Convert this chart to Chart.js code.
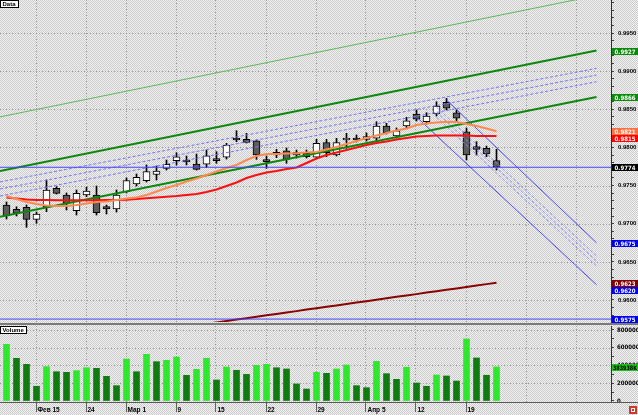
<!DOCTYPE html>
<html lang="ru">
<head>
<meta charset="UTF-8">
<title>Data</title>
<script src="https://cdn.jsdelivr.net/npm/chart.js"></script>
<style>
  html, body { margin: 0; padding: 0; background: #e0e0e0; }
  #wrap { width: 638px; height: 415px; overflow: hidden; }
  canvas { display: block; }
</style>
</head>
<body>
<div id="wrap">
  <canvas id="price" width="638" height="326"></canvas>
  <canvas id="volume" width="638" height="89"></canvas>
</div>
<script>
// ---- categories / ticks ----
const weekTickIdx = [3, 8, 12, 17, 21, 26, 31, 36, 41, 46];
const weekTickLabels = ['Фев 15', '24', 'Мар 1', '9', '15', '22', '29', 'Апр 5', '12', '19'];
const futureGridIdx = [52, 57];
const priceTicks = [0.9600, 0.9650, 0.9700, 0.9750, 0.9800, 0.9850, 0.9900, 0.9950];
const volumeTicks = [0, 200000, 400000, 600000, 800000];

// ---- daily candles (index 0 = Feb 10) ----
const opens  = [0.97245,0.97187,0.97214,0.97056,0.97220,0.97464,0.97376,0.97171,0.97376,0.97376,
                0.97223,0.97193,0.97420,0.97521,0.97564,0.97645,0.97726,0.97826,0.97835,0.97783,
                0.97779,0.97844,0.97871,0.98110,0.98106,0.98088,0.97835,0.97901,0.97957,0.97901,
                0.97923,0.97871,0.98062,0.97901,0.98097,0.98123,0.98106,0.98120,0.98281,0.98150,
                0.98281,0.98438,0.98337,0.98438,0.98592,0.98455,0.98206,0.98010,0.97988,0.97826];
const highs  = [0.97285,0.97222,0.97245,0.97153,0.97573,0.97485,0.97403,0.97442,0.97478,0.97494,
                0.97245,0.97442,0.97599,0.97652,0.97770,0.97756,0.97835,0.97931,0.97888,0.97914,
                0.97966,0.97944,0.98054,0.98219,0.98185,0.98097,0.97888,0.97975,0.97993,0.97966,
                0.97966,0.98106,0.98106,0.98119,0.98185,0.98163,0.98189,0.98337,0.98316,0.98255,
                0.98395,0.98491,0.98455,0.98599,0.98644,0.98491,0.98255,0.98075,0.98018,0.97975];
const lows   = [0.97062,0.97101,0.96953,0.97005,0.97158,0.97389,0.97180,0.97114,0.97354,0.97114,
                0.97127,0.97153,0.97403,0.97494,0.97547,0.97573,0.97704,0.97770,0.97770,0.97704,
                0.97737,0.97792,0.97848,0.98075,0.98058,0.97844,0.97726,0.97865,0.97792,0.97861,
                0.97861,0.97861,0.97878,0.97888,0.97988,0.98071,0.98084,0.98054,0.98176,0.98123,
                0.98255,0.98346,0.98307,0.98412,0.98491,0.98337,0.97835,0.97901,0.97879,0.97704];
const closes = [0.97101,0.97135,0.97056,0.97127,0.97442,0.97398,0.97267,0.97398,0.97429,0.97144,
                0.97193,0.97376,0.97564,0.97608,0.97682,0.97691,0.97779,0.97878,0.97809,0.97713,
                0.97891,0.97826,0.98032,0.98097,0.98067,0.97901,0.97813,0.97936,0.97844,0.97931,
                0.97878,0.98054,0.97931,0.98062,0.98110,0.98097,0.98141,0.98281,0.98193,0.98219,
                0.98350,0.98369,0.98412,0.98543,0.98513,0.98382,0.97901,0.97975,0.97914,0.9774];
const volumes = [639000,481000,413000,166000,387000,330000,323000,342000,375000,368000,
                 278000,173000,473000,330000,526000,443000,458000,496000,289000,357000,
                 481000,237000,383000,346000,300000,402000,413000,375000,361000,192000,
                 135000,323000,312000,361000,406000,173000,150000,447000,308000,244000,
                 380000,203000,166000,293000,282000,225000,699000,485000,290000,383938];

// ---- moving averages ----
const maFast = [0.97363,0.97324,0.97285,0.97258,0.97239,0.97232,0.97232,0.97245,0.97265,0.97285,
                0.97291,0.97311,0.97331,0.97344,0.97376,0.97422,0.97468,0.97507,0.97553,0.97593,
                0.97639,0.97684,0.97730,0.97770,0.97835,0.97888,0.97914,0.97914,0.97920,0.97923,
                0.97934,0.97940,0.97973,0.98006,0.98045,0.98084,0.98124,0.98156,0.98189,0.98222,
                0.98248,0.98294,0.98313,0.98327,0.98337,0.98333,0.98307,0.98281,0.98248,0.98212];
const maMid  = [0.97344,0.97331,0.97317,0.97311,0.97311,0.97307,0.97307,0.97307,0.97307,0.97307,
                0.97311,0.97311,0.97315,0.97324,0.97333,0.97344,0.97354,0.97363,0.97376,0.97389,
                0.97416,0.97448,0.97494,0.97540,0.97599,0.97638,0.97671,0.97691,0.97717,0.97737,
                0.97796,0.97855,0.97901,0.97934,0.97966,0.97999,0.98032,0.98058,0.98078,0.98104,
                0.98124,0.98143,0.98150,0.98156,0.98156,0.98156,0.98156,0.98150,0.98150,0.98150];
const maSlowStart = 20;
const maSlow = [0.95688,0.95706,0.95724,0.95743,0.95761,0.95781,0.95799,0.95817,0.95836,0.95854,
                0.95874,0.95892,0.95911,0.95929,0.95947,0.95966,0.95985,0.96004,0.96022,0.96041,
                0.96059,0.96077,0.96097,0.96115,0.96134,0.96152,0.96170,0.96190,0.96208,0.96227];

// ---- drawn lines: [index, price] end points ----
const greenUpper = [[-0.65, 0.9840], [60.45, 1.0003]];
const greenMid   = [[-0.65, 0.9769], [59, 0.9927]];
const greenLow   = [[-0.65, 0.9709], [59, 0.9866]];
const riseDash   = [[[-0.65, 0.97547], [59, 0.99037]],
                    [[-0.65, 0.97455], [59, 0.98949]],
                    [[-0.65, 0.97363], [59, 0.98861]]];
const fallUpper  = [[44, 0.98622], [59, 0.9675]];
const fallLower  = [[41, 0.98399], [59, 0.9620]];
const fallDash   = [[[43, 0.98527], [59, 0.96577]],
                    [[43, 0.98462], [59, 0.96511]],
                    [[43, 0.98396], [59, 0.96446]]];
const lastClose = 0.9774;
const supportLevel = 0.9575;

const X_MIN = -0.65, X_MAX = 60.45;
const FONT = '"Liberation Sans", Arial, sans-serif';
const NARROW = '"Liberation Sans Narrow", "DejaVu Sans Condensed", "Liberation Sans", sans-serif';

// ---- helpers ----
function dotPattern(ctx) {
  const c = document.createElement('canvas');
  c.width = 2; c.height = 2;
  const g = c.getContext('2d');
  g.fillStyle = '#f2f2f2'; g.fillRect(0, 0, 2, 2);
  g.fillStyle = '#cbcbcb'; g.fillRect(0, 0, 1, 1); g.fillRect(1, 1, 1, 1);
  return ctx.createPattern(c, 'repeat');
}
function dotted(ctx, x1, y1, x2, y2, color) {
  ctx.save();
  ctx.strokeStyle = color; ctx.lineWidth = 1; ctx.setLineDash([1, 2]);
  ctx.beginPath(); ctx.moveTo(x1, y1); ctx.lineTo(x2, y2); ctx.stroke();
  ctx.restore();
}
function tag(ctx, y, text, bg, fg) {
  ctx.save();
  ctx.fillStyle = bg; ctx.fillRect(612, y, 26, 7);
  ctx.fillStyle = fg; ctx.font = 'bold 6px ' + NARROW;
  ctx.textAlign = 'center'; ctx.textBaseline = 'middle';
  ctx.fillText(text, 625, y + 4, 24);
  ctx.restore();
}
function panelLabel(ctx, x, y, text) {
  ctx.save();
  ctx.font = 'bold 6px ' + FONT;
  const w = Math.ceil(ctx.measureText(text).width) + 5;
  ctx.fillStyle = '#fff'; ctx.fillRect(x, y, w, 8);
  ctx.strokeStyle = '#000'; ctx.lineWidth = 1; ctx.strokeRect(x + 0.5, y + 0.5, w - 1, 7);
  ctx.fillStyle = '#000'; ctx.textAlign = 'left'; ctx.textBaseline = 'middle';
  ctx.fillText(text, x + 2.5, y + 4.5);
  ctx.restore();
}
function seg(pts) { return pts.map(p => ({x: p[0], y: p[1]})); }
function lineDs(data, color, width, extra) {
  return Object.assign({type: 'line', data: data, borderColor: color, backgroundColor: color,
    borderWidth: width, pointRadius: 0, tension: 0, fill: false, order: 0}, extra || {});
}

// ---- price panel ----
const idx = closes.map((_, i) => i);
const bodyData = idx.map(i => ({x: i, y: [opens[i], closes[i]]}));
const wickData = idx.map(i => ({x: i, y: [lows[i], highs[i]]}));
const bodyColors = idx.map(i => closes[i] >= opens[i] ? '#ffffff' : '#5c5c5c');

const priceDatasets = [
  lineDs(seg([[X_MIN, lastClose], [X_MAX, lastClose]]), '#4646ff', 1),
  lineDs(seg([[X_MIN, supportLevel], [X_MAX, supportLevel]]), '#4646ff', 1, {tag: '#0000ee'}),
  lineDs(idx.map(i => ({x: i, y: maFast[i]})), '#ff8a50', 2, {tag: '#ff7040'}),
  lineDs(idx.map(i => ({x: i, y: maMid[i]})), '#ff1010', 2, {tag: '#ff0000'}),
  lineDs(maSlow.map((v, k) => ({x: maSlowStart + k, y: v})), '#8a0000', 2, {tag: '#800000'}),
  lineDs(seg(greenUpper), '#5cb85c', 1),
  lineDs(seg(greenMid), '#0c880c', 2, {tag: '#0a8a0a'}),
  lineDs(seg(greenLow), '#0c880c', 2, {tag: '#0a8a0a'}),
  ...riseDash.map(p => lineDs(seg(p), '#7474ff', 1, {borderDash: [3, 2]})),
  lineDs(seg(fallUpper), '#4848ff', 1, {tag: '#0000ee'}),
  lineDs(seg(fallLower), '#4848ff', 1, {tag: '#0000ee'}),
  ...fallDash.map(p => lineDs(seg(p), '#8a8aff', 1, {borderDash: [3, 2]})),
  {type: 'bar', data: bodyData, backgroundColor: bodyColors, borderColor: '#000', borderWidth: 1,
   borderSkipped: false, barThickness: 7, minBarLength: 2, grouped: false, order: 1},
  {type: 'bar', data: wickData, backgroundColor: '#000', borderWidth: 0,
   barThickness: 1, grouped: false, order: 2}
];

const gridIdx = weekTickIdx.concat(futureGridIdx);

const priceDecor = {
  id: 'priceDecor',
  beforeDraw(chart) {
    const ctx = chart.ctx, a = chart.chartArea, x = chart.scales.x, y = chart.scales.y;
    ctx.save();
    ctx.fillStyle = dotPattern(ctx); ctx.fillRect(0, 0, chart.width, chart.height);
    priceTicks.forEach(v => {
      const py = Math.round(y.getPixelForValue(v)) + 0.5;
      dotted(ctx, a.left, py, a.right, py, '#9a9a9a');
    });
    gridIdx.forEach(i => {
      const px = Math.round(x.getPixelForValue(i)) - 0.5;
      dotted(ctx, px, a.top, px, a.bottom, '#9a9a9a');
    });
    ctx.restore();
  },
  afterDraw(chart) {
    const ctx = chart.ctx, y = chart.scales.y;
    const tags = [];
    chart.data.datasets.forEach(ds => {
      if (!ds.tag) return;
      const v = ds.data[ds.data.length - 1].y;
      tags.push({v: v, py: Math.round(y.getPixelForValue(v)) - 3, bg: ds.tag});
    });
    tags.push({v: closes[closes.length - 1], py: Math.round(y.getPixelForValue(lastClose)) - 3, bg: '#000000'});
    tags.sort((p, q) => p.py - q.py);
    let prev = -99;
    tags.forEach(t => {
      if (t.py < prev) t.py = prev;
      tag(ctx, t.py, t.v.toFixed(4), t.bg, '#ffffff');
      prev = t.py + 7;
    });
    panelLabel(ctx, 0, 0, 'Data');
    ctx.fillStyle = '#7a7a7a'; ctx.fillRect(0, 323, chart.width, 2);
  }
};

new Chart(document.getElementById('price'), {
  type: 'bar',
  data: {datasets: priceDatasets},
  options: {
    responsive: false, animation: false, events: [],
    layout: {padding: {bottom: 4}},
    plugins: {legend: {display: false}, tooltip: {enabled: false}},
    scales: {
      x: {type: 'linear', min: X_MIN, max: X_MAX, offset: false, display: false},
      y: {
        type: 'linear', position: 'right', min: 0.957115, max: 0.999326,
        afterBuildTicks: s => {
          const t = [];
          for (let k = 958; k <= 999; k++) t.push({value: k / 1000});
          s.ticks = t;
        },
        afterFit: s => { s.width = 27; s.paddingTop = 0; s.paddingBottom = 0; },
        border: {display: true, color: '#303030'},
        grid: {drawOnChartArea: false, drawTicks: true, tickLength: 3, color: '#404040'},
        ticks: {
          autoSkip: false, padding: 4, color: '#000', font: {family: FONT, size: 6, weight: 'bold'},
          callback: v => priceTicks.some(t => Math.abs(t - v) < 1e-7) ? v.toFixed(4) : ''
        }
      }
    }
  },
  plugins: [priceDecor]
});

// ---- volume panel ----
const volColors = volumes.map((v, i) => (i === 0 || v >= volumes[i - 1]) ? '#2ee82e' : '#0f7c0f');

const volDecor = {
  id: 'volDecor',
  beforeDraw(chart) {
    const ctx = chart.ctx, a = chart.chartArea, x = chart.scales.x, y = chart.scales.y;
    ctx.save();
    ctx.fillStyle = dotPattern(ctx); ctx.fillRect(0, 0, chart.width, chart.height);
    volumeTicks.forEach(v => {
      if (v === 0) return;
      const py = Math.round(y.getPixelForValue(v)) + 0.5;
      dotted(ctx, a.left, py, a.right, py, '#9a9a9a');
    });
    gridIdx.forEach(i => {
      const px = Math.round(x.getPixelForValue(i)) - 0.5;
      dotted(ctx, px, a.top, px, a.bottom, '#9a9a9a');
    });
    ctx.restore();
  },
  afterDraw(chart) {
    const ctx = chart.ctx, a = chart.chartArea, x = chart.scales.x, y = chart.scales.y;
    ctx.save();
    ctx.fillStyle = '#5a5a5a'; ctx.fillRect(0, a.bottom, chart.width, 1);
    ctx.fillStyle = '#606060';
    weekTickIdx.forEach(i => {
      const px = Math.round(x.getPixelForValue(i)) - 1;
      ctx.fillRect(px, a.bottom + 1, 1, 9);
    });
    const last = volumes[volumes.length - 1];
    const py = Math.round(y.getPixelForValue(last)) - 3;
    tag(ctx, py, last + 'K', '#1fc01f', '#000000');
    panelLabel(ctx, 0, 0, 'Volume');
    // small close box bottom-right
    ctx.fillStyle = '#d03a2a'; ctx.fillRect(629, 80, 8, 8);
    ctx.strokeStyle = '#fff'; ctx.lineWidth = 1;
    ctx.strokeRect(631.5, 82.5, 3, 3);
    ctx.restore();
  }
};

new Chart(document.getElementById('volume'), {
  type: 'bar',
  data: {datasets: [{
    data: volumes.map((v, i) => ({x: i, y: v})),
    backgroundColor: volColors, borderWidth: 0, barThickness: 6, grouped: false
  }]},
  options: {
    responsive: false, animation: false, events: [],
    plugins: {legend: {display: false}, tooltip: {enabled: false}},
    scales: {
      x: {
        type: 'linear', min: X_MIN, max: X_MAX, offset: false, position: 'bottom',
        afterBuildTicks: s => { s.ticks = weekTickIdx.map(v => ({value: v})); },
        afterFit: s => { s.height = 13; s.paddingLeft = 0; s.paddingRight = 0; },
        border: {display: false},
        grid: {drawOnChartArea: false, drawTicks: false},
        ticks: {
          autoSkip: false, maxRotation: 0, align: 'start', labelOffset: 1, padding: 4,
          color: '#000', font: {family: FONT, size: 6.5, weight: 'bold'},
          callback: v => weekTickLabels[weekTickIdx.indexOf(v)] || ''
        }
      },
      y: {
        type: 'linear', position: 'right', min: -11268, max: 845070,
        afterBuildTicks: s => {
          const t = [];
          for (let k = 0; k <= 800000; k += 100000) t.push({value: k});
          s.ticks = t;
        },
        afterFit: s => { s.width = 27; s.paddingTop = 0; s.paddingBottom = 0; },
        border: {display: true, color: '#303030'},
        grid: {drawOnChartArea: false, drawTicks: true, tickLength: 3, color: '#404040'},
        ticks: {
          autoSkip: false, padding: 3, color: '#000', font: {family: NARROW, size: 6, weight: 'bold'},
          callback: v => volumeTicks.includes(v) ? (v === 0 ? '0' : v + 'K') : ''
        }
      }
    }
  },
  plugins: [volDecor]
});
</script>
</body>
</html>
